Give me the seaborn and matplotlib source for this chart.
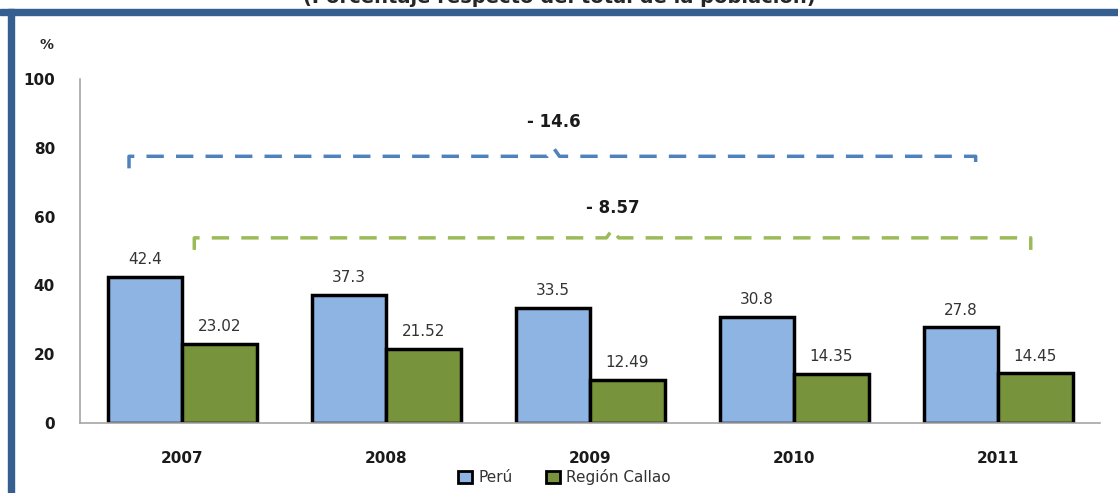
import matplotlib.pyplot as plt
import matplotlib.patches as mpatches
import pandas as pd
import seaborn as sns
import numpy as np

# data
years = ['2007', '2008', '2009', '2010', '2011']
peru = [42.4, 37.3, 33.5, 30.8, 27.8]
callao = [23.02, 21.52, 12.49, 14.35, 14.45]
peru_lbl = ['42.4', '37.3', '33.5', '30.8', '27.8']
callao_lbl = ['23.02', '21.52', '12.49', '14.35', '14.45']
series = ['Perú', 'Región Callao']
diff_peru = '- 14.6'
diff_callao = '- 8.57'

df = pd.DataFrame({
    'year': years * 2,
    'value': peru + callao,
    'serie': [series[0]] * len(years) + [series[1]] * len(years),
})

sns.set_style('white')
plt.rcParams['font.family'] = ['DejaVu Sans']

fig = plt.figure(figsize=(11.18, 4.93), dpi=100)
ax = fig.add_axes([0.0716, 0.142, 0.9124, 0.698])

pal = {'Perú': '#8EB4E3', 'Región Callao': '#77933C'}
sns.barplot(data=df, x='year', y='value', hue='serie', palette=pal, width=0.73,
            edgecolor='black', linewidth=2.5, saturation=1, ax=ax, legend=False)

ax.bar_label(ax.containers[0], labels=peru_lbl, padding=7, fontsize=11, color='#333333')
ax.bar_label(ax.containers[1], labels=callao_lbl, padding=7, fontsize=11, color='#333333')

ax.set_xlim(-0.5, 4.5)
ax.set_ylim(0, 100)
ax.set_yticks([0, 20, 40, 60, 80, 100])
ax.set_xlabel('')
ax.set_ylabel('')
for s in ['top', 'right']:
    ax.spines[s].set_visible(False)
for s in ['left', 'bottom']:
    ax.spines[s].set_color('#A6A6A6')
    ax.spines[s].set_linewidth(1.2)
ax.tick_params(axis='y', length=6, color='#A6A6A6', labelsize=11, pad=12)
ax.tick_params(axis='x', length=0, labelsize=11, pad=20)
ax.set_xticks(np.arange(-0.5, 5, 1), minor=True)
ax.tick_params(axis='x', which='minor', length=6, color='#A6A6A6')
for t in ax.get_xticklabels() + ax.get_yticklabels():
    t.set_fontweight('bold')
    t.set_color('#1a1a1a')

# brackets
def bracket(x0, x1, xc, y, color, h=3.5, bump=2.5):
    xs = [x0, x0, xc - 0.03, xc, xc + 0.03, x1, x1]
    ys = [y - h, y, y, y + bump, y, y, y - h]
    ax.plot(xs, ys, color=color, lw=2.5, dashes=(5, 3.5), clip_on=False)

bracket(-0.26, 3.89, 1.82, 77.5, '#4F81BD')
ax.text(1.82, 87.5, diff_peru, ha='center', va='center', fontsize=12, fontweight='bold', color='#1a1a1a')
bracket(0.06, 4.16, 2.11, 53.8, '#9BBB59')
ax.text(2.11, 62.5, diff_callao, ha='center', va='center', fontsize=12, fontweight='bold', color='#1a1a1a')

# legend
handles = [mpatches.Patch(facecolor=pal[s], edgecolor='black', linewidth=2) for s in series]
fig.legend(handles, series, loc='center', bbox_to_anchor=(0.505, 0.032), ncol=2, frameon=False,
           fontsize=11, handlelength=0.9, handleheight=0.9, handletextpad=0.4, columnspacing=2.2,
           labelcolor='#333333')

# frame and title (cut at the top, as in the source)
fig.patches.append(mpatches.Rectangle((0, 1 - 15 / 493), 1, 6 / 493, transform=fig.transFigure,
                                      color='#365F91', zorder=0))
fig.patches.append(mpatches.Rectangle((8 / 1118, 0), 6 / 1118, 1 - 9 / 493, transform=fig.transFigure,
                                      color='#365F91', zorder=0))
fig.text(0.5, 1 - 3 / 493, '(Porcentaje respecto del total de la población)', ha='center',
         va='baseline', fontsize=14, fontweight='bold')
fig.text(46 / 1118, 1 - 45 / 493, '%', ha='center', va='center', fontsize=10, fontweight='bold')

fig.savefig('out.png', dpi=100)
